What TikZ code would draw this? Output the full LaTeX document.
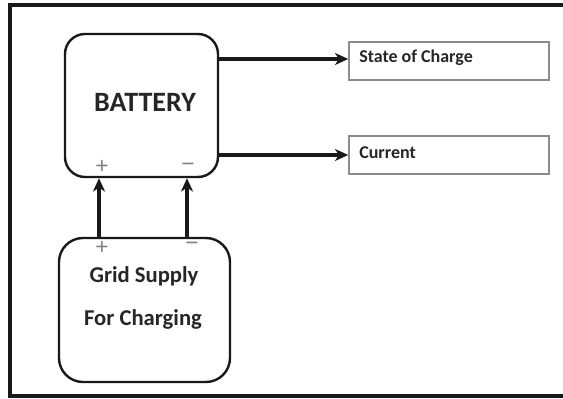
\documentclass[tikz,border=0pt]{standalone}
\usepackage{fontspec}
\setmainfont{Carlito}
\newfontfamily\signfont{Liberation Sans}
\usetikzlibrary{arrows.meta}
\begin{document}
\begin{tikzpicture}[x=0.75pt,y=-0.75pt,
  rbox/.style={draw=black!90,line width=1.8pt,rounded corners=15pt,inner sep=0pt},
  obox/.style={draw=black!45,line width=1.1pt,inner sep=0pt,minimum width=150pt,minimum height=28.5pt},
  arr/.style={draw=black!90,line width=2.5pt,-{Stealth[length=10pt,width=9pt,inset=3pt]}},
  sgn/.style={text=black!50,font=\signfont\fontsize{17pt}{17pt}\selectfont,inner sep=0pt},
  lbl/.style={text=black!85,font=\bfseries,inner sep=0pt}]
\useasboundingbox (0,0) rectangle (563,399);
\draw[line width=2.3pt,black!90] (566,5) -- (10,5) -- (10,396) -- (566,396);
% boxes
\node[rbox,minimum width={153*0.75pt},minimum height={143*0.75pt}] (battery) at (141.5,105.5) {};
\node[rbox,minimum width={171*0.75pt},minimum height={144*0.75pt},rounded corners=18pt] (grid) at (144.5,310) {};
\node[obox] (soc) at (449,61) {};
\node[obox] (cur) at (449,155) {};
% texts
\node[lbl,font=\fontsize{21pt}{21pt}\selectfont\bfseries] (btext) at (145,102) {BATTERY};
\node[lbl,font=\fontsize{17pt}{17pt}\selectfont\bfseries] (gtext1) at (144,276) {Grid Supply};
\node[lbl,font=\fontsize{17pt}{17pt}\selectfont\bfseries] (gtext2) at (143,319) {For Charging};
\node[lbl,font=\fontsize{13.5pt}{13.5pt}\selectfont\bfseries,anchor=west] (soctext) at (359,58) {State of Charge};
\node[lbl,font=\fontsize{13.5pt}{13.5pt}\selectfont\bfseries,anchor=west] (curtext) at (359,153) {Current};
% signs
\node[sgn] (bplus) at (102,167) {+};
\node[sgn] (bminus) at (188,167) {−};
\node[sgn] (gplus) at (102,248) {+};
\node[sgn] (gminus) at (192,246) {−};
% connectors
\coordinate (pa) at (99,0);
\coordinate (pb) at (187,0);
\draw[arr] (pa |- grid.north) -- (pa |- battery.south);
\draw[arr] (pb |- grid.north) -- (pb |- battery.south);
\coordinate (ya) at (0,59);
\draw[arr] (battery.east |- ya) -- (soc.west |- ya);
\draw[arr] (battery.east |- cur.west) -- (cur.west);
\end{tikzpicture}
\end{document}
